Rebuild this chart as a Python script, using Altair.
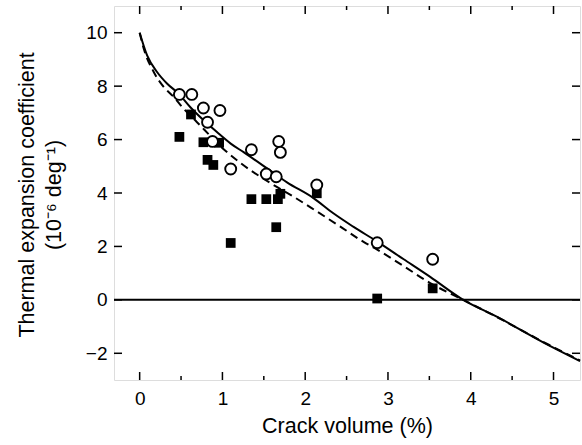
import altair as alt
import pandas as pd

# ---- data ----
circle_x = [0.48, 0.63, 0.77, 0.97, 0.82, 0.88, 1.10, 1.35, 1.53, 1.65, 1.68, 1.70, 2.14, 2.87, 3.54]
circle_y = [7.69, 7.69, 7.18, 7.09, 6.65, 5.93, 4.90, 5.62, 4.71, 4.61, 5.93, 5.52, 4.30, 2.14, 1.52]

square_x = [0.48, 0.62, 0.77, 0.82, 0.89, 0.96, 1.10, 1.35, 1.53, 1.67, 1.70, 1.65, 2.14, 2.87, 3.54]
square_y = [6.10, 6.94, 5.90, 5.24, 5.05, 5.88, 2.13, 3.77, 3.77, 3.77, 3.97, 2.72, 3.99, 0.05, 0.43]

solid_x = [0.0, 0.09, 0.21, 0.33, 0.47, 0.61, 0.77, 0.93, 1.10, 1.26, 1.54, 1.78, 2.10,
           2.34, 2.58, 2.87, 3.19, 3.51, 3.91, 4.32, 4.88, 5.32]
solid_y = [10.0, 9.15, 8.53, 8.10, 7.72, 7.22, 6.73, 6.29, 5.85, 5.52, 4.92, 4.40, 3.81,
           3.24, 2.74, 2.18, 1.52, 0.86, 0.0, -0.64, -1.60, -2.29]

dashed_x = [0.0, 0.05, 0.17, 0.29, 0.41, 0.53, 0.69, 0.85, 0.97, 1.22, 1.58, 1.86, 2.14,
            2.42, 2.71, 2.87, 3.19, 3.51, 3.91, 4.32, 4.88, 5.32]
dashed_y = [10.0, 9.4, 8.53, 7.97, 7.60, 7.16, 6.66, 6.15, 5.77, 5.12, 4.37, 3.86, 3.31,
            2.75, 2.16, 1.88, 1.26, 0.63, 0.0, -0.65, -1.58, -2.27]

x_major = [0, 1, 2, 3, 4, 5]
x_minor = [0.5, 1.5, 2.5, 3.5, 4.5]
y_major = [-2, 0, 2, 4, 6, 8, 10]
zero_line = [0]
y_title_lines = ["Thermal expansion coefficient", "(10⁻⁶ deg⁻¹)"]

W, H = 466, 374
FONT = "Liberation Sans"

xs = alt.Scale(domain=[-0.31, 5.32], nice=False, zero=False)
ys = alt.Scale(domain=[-3, 11], nice=False, zero=False)

circles = pd.DataFrame({"x": circle_x, "y": circle_y})
squares = pd.DataFrame({"x": square_x, "y": square_y})
solid = pd.DataFrame({"x": solid_x, "y": solid_y})
dashed = pd.DataFrame({"x": dashed_x, "y": dashed_y})
xmaj = pd.DataFrame({"x": x_major})
xmin = pd.DataFrame({"x": x_minor})
ymaj = pd.DataFrame({"y": y_major})
zero = pd.DataFrame({"y": zero_line})

x_axis = alt.Axis(values=x_major, ticks=False, domain=False, grid=False, labelFontSize=19,
                  labelPadding=9, labelFont=FONT, labelColor="black",
                  title="Crack volume (%)", titleFont=FONT, titleFontSize=21.5,
                  titleFontWeight="normal", titleColor="black", titlePadding=7)
y_axis = alt.Axis(values=y_major, ticks=False, domain=False, grid=False, labelFontSize=19,
                  labelPadding=7, labelFont=FONT, labelColor="black", title=None)

X = alt.X("x:Q", scale=xs, axis=x_axis)
Y = alt.Y("y:Q", scale=ys, axis=y_axis)

zl = alt.Chart(zero).mark_rule(color="black", strokeWidth=2).encode(y=Y)

solid_line = alt.Chart(solid).mark_line(color="black", strokeWidth=2, interpolate="monotone").encode(
    x=X, y=Y)
dashed_line = alt.Chart(dashed).mark_line(color="black", strokeWidth=2, strokeDash=[8, 5],
                                          interpolate="monotone").encode(x=X, y=Y)
sq = alt.Chart(squares).mark_point(shape="square", filled=True, color="black", size=95,
                                   opacity=1).encode(x=X, y=Y)
ci = alt.Chart(circles).mark_point(shape="circle", filled=False, stroke="black", fill="white",
                                   fillOpacity=1, strokeWidth=1.9, size=120,
                                   opacity=1).encode(x=X, y=Y)


def xticks(df, L):
    bottom = alt.Chart(df).mark_rule(color="black", strokeWidth=1.5).encode(
        x=X, y=alt.value(H), y2=alt.value(H - L))
    top = alt.Chart(df).mark_rule(color="black", strokeWidth=1.5).encode(
        x=X, y=alt.value(0), y2=alt.value(L))
    return [bottom, top]


left_t = alt.Chart(ymaj).mark_rule(color="black", strokeWidth=1.5).encode(
    y=Y, x=alt.value(0), x2=alt.value(8))
right_t = alt.Chart(ymaj).mark_rule(color="black", strokeWidth=1.5).encode(
    y=Y, x=alt.value(W), x2=alt.value(W - 8))

title1 = alt.Chart(pd.DataFrame({"t": [y_title_lines[0]]})).mark_text(
    angle=270, align="center", baseline="middle", font=FONT, fontSize=21.5, color="black"
).encode(text="t:N", x=alt.value(-86), y=alt.value(H / 2 + 2))
title2 = alt.Chart(pd.DataFrame({"t": [y_title_lines[1]]})).mark_text(
    angle=270, align="center", baseline="middle", font=FONT, fontSize=21.5, color="black"
).encode(text="t:N", x=alt.value(-59), y=alt.value(H / 2 + 2))

chart = alt.layer(
    zl, dashed_line, solid_line, sq, ci,
    *xticks(xmaj, 8), *xticks(xmin, 4), left_t, right_t, title1, title2,
).properties(
    width=W, height=H,
    autosize=alt.AutoSizeParams(type="none"),
    padding={"left": 114, "top": 6, "right": 2, "bottom": 65},
).configure_view(
    stroke="black", strokeWidth=1.5
).configure(background="white")

chart.save("out.html", embed_options={"renderer": "svg", "actions": False})
